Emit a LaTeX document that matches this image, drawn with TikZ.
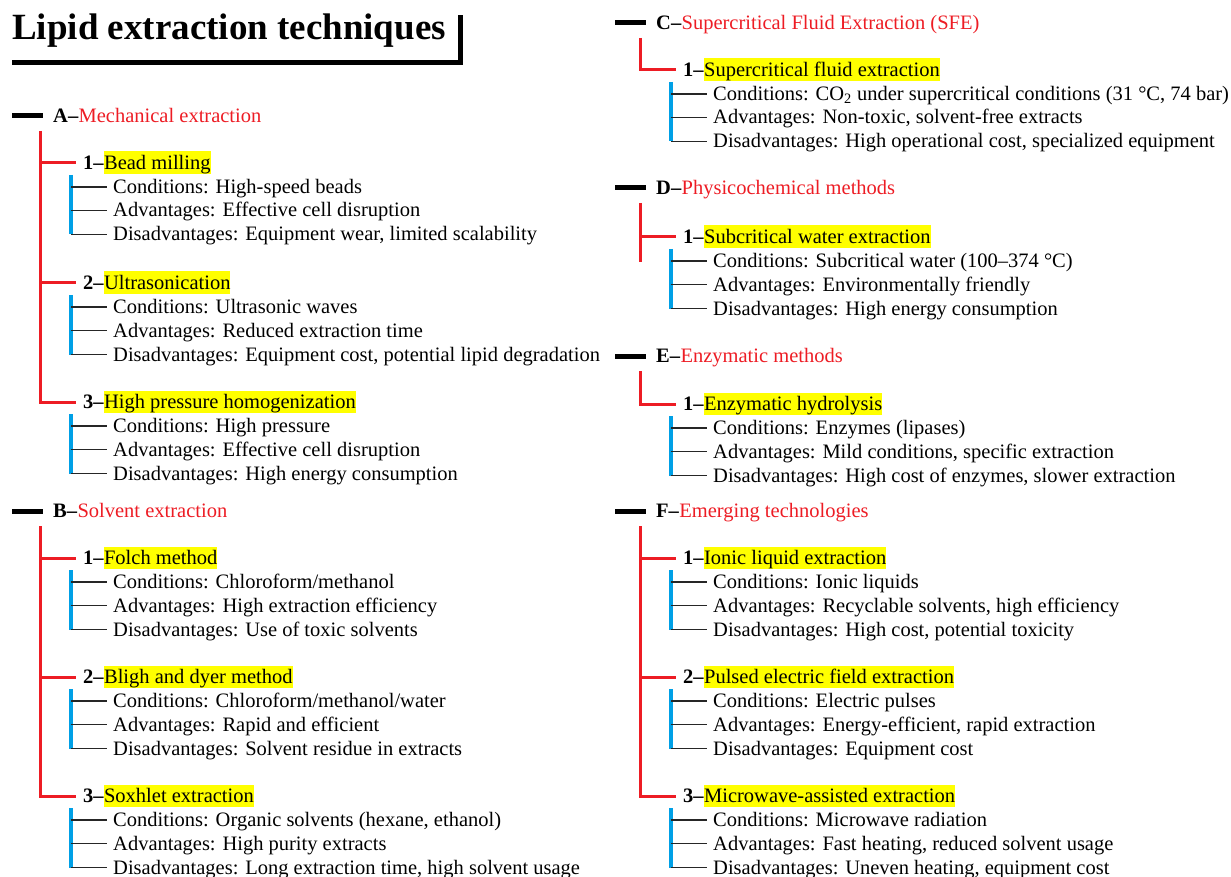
\documentclass[tikz,border=0pt]{standalone}
\usepackage{fontspec}
\setmainfont{Liberation Serif}
\usetikzlibrary{positioning}

\definecolor{hdred}{RGB}{237,28,36}
\definecolor{barblue}{RGB}{0,160,230}
\definecolor{hiyellow}{RGB}{255,255,0}

\newcommand{\bodysize}{\fontsize{20.5pt}{24pt}\selectfont}

\tikzset{
  txt/.style={anchor=west,inner sep=0pt,text height=13pt,text depth=0pt,font=\bodysize},
  headtxt/.style={txt,font=\bodysize\bfseries},
  numtxt/.style={txt,font=\bodysize\bfseries},
  hilite/.style={inner sep=0pt,fill=hiyellow,text height=18pt,text depth=4.5pt,font=\bodysize},
  headline/.style={line width=5pt,black},
  branchline/.style={line width=3pt,hdred},
  barline/.style={line width=3.5pt,barblue},
  rowline/.style={line width=1.8pt,black!85}
}

% #1 prefix, #2 column x, #3 y, #4 letter, #5 group name
\newcommand{\grouphead}[5]{%
  \coordinate (#1dash) at (#2+12,#3);
  \node[headtxt] (#1let) at (#2+53,#3) {#4--};
  \node[txt,text=hdred,right=0pt of #1let] (#1name) {#5};
  \draw[headline,shorten >=10pt] (#1dash) -- (#1let.west);
}

% #1 prefix, #2 column x, #3 y, #4 number, #5 method, #6-#8 rows
\newcommand{\methoditem}[8]{%
  \node[numtxt] (#1num) at (#2+83,#3) {#4--};
  \node[hilite,anchor=base west] (#1name) at (#1num.base east) {#5};
  \node[txt] (#1c) at (#2+113,#3+24) {Conditions: #6};
  \node[txt] (#1a) at (#2+113,#3+47.5) {Advantages: #7};
  \node[txt] (#1d) at (#2+113,#3+71.5) {Disadvantages: #8};
  \coordinate (#1bar) at (#2+71,#3+12);
  \draw[barline] (#1bar) -- (#1bar |- #1d.west);
  \foreach \r in {c,a,d}
    \draw[rowline,shorten >=6pt] (#1bar |- #1\r.west) -- (#1\r.west);
}

\begin{document}
\begin{tikzpicture}[x=1pt,y=-1pt]
\useasboundingbox (0,0) rectangle (1231,877);

% title
\node[inner sep=0pt,anchor=base west,font=\fontsize{37pt}{40pt}\selectfont\bfseries] (title) at (12,40) {Lipid extraction techniques};
\coordinate (tbl) at (12,63);
\coordinate (tbr) at (460,15);
\draw[line width=5pt] (tbl) -| (tbr);

% left column
\grouphead{A}{0}{116}{A}{Mechanical extraction}
\methoditem{A1}{0}{163}{1}{Bead milling}{High-speed beads}{Effective cell disruption}{Equipment wear, limited scalability}
\methoditem{A2}{0}{283}{2}{Ultrasonication}{Ultrasonic waves}{Reduced extraction time}{Equipment cost, potential lipid degradation}
\methoditem{A3}{0}{402}{3}{High pressure homogenization}{High pressure}{Effective cell disruption}{High energy consumption}
\coordinate (Atrunk) at (40,131);
\draw[branchline,shorten >=7pt] (Atrunk) |- (A3num.west);
\draw[branchline,shorten >=7pt] (Atrunk |- A1num.west) -- (A1num.west);
\draw[branchline,shorten >=7pt] (Atrunk |- A2num.west) -- (A2num.west);

\grouphead{B}{0}{511}{B}{Solvent extraction}
\methoditem{B1}{0}{558}{1}{Folch method}{Chloroform/methanol}{High extraction efficiency}{Use of toxic solvents}
\methoditem{B2}{0}{677}{2}{Bligh and dyer method}{Chloroform/methanol/water}{Rapid and efficient}{Solvent residue in extracts}
\methoditem{B3}{0}{796}{3}{Soxhlet extraction}{Organic solvents (hexane, ethanol)}{High purity extracts}{Long extraction time, high solvent usage}
\coordinate (Btrunk) at (40,526);
\draw[branchline,shorten >=7pt] (Btrunk) |- (B3num.west);
\draw[branchline,shorten >=7pt] (Btrunk |- B1num.west) -- (B1num.west);
\draw[branchline,shorten >=7pt] (Btrunk |- B2num.west) -- (B2num.west);

% right column
\grouphead{C}{603}{23}{C}{Supercritical Fluid Extraction (SFE)}
\methoditem{C1}{600}{70}{1}{Supercritical fluid extraction}{CO\textsubscript{2} under supercritical conditions (31 °C, 74 bar)}{Non-toxic, solvent-free extracts}{High operational cost, specialized equipment}
\coordinate (Ctrunk) at (640,38);
\draw[branchline,shorten >=7pt] (Ctrunk) |- (C1num.west);

\grouphead{D}{603}{188}{D}{Physicochemical methods}
\methoditem{D1}{600}{237}{1}{Subcritical water extraction}{Subcritical water (100--374 °C)}{Environmentally friendly}{High energy consumption}
\coordinate (Dtrunk) at (640,203);
\coordinate (Dend) at (640,262);
\draw[branchline] (Dtrunk) -- (Dend);
\draw[branchline,shorten >=7pt] (Dtrunk |- D1num.west) -- (D1num.west);

\grouphead{E}{603}{356}{E}{Enzymatic methods}
\methoditem{E1}{600}{404}{1}{Enzymatic hydrolysis}{Enzymes (lipases)}{Mild conditions, specific extraction}{High cost of enzymes, slower extraction}
\coordinate (Etrunk) at (640,371);
\draw[branchline,shorten >=7pt] (Etrunk) |- (E1num.west);

\grouphead{F}{603}{511}{F}{Emerging technologies}
\methoditem{F1}{600}{558}{1}{Ionic liquid extraction}{Ionic liquids}{Recyclable solvents, high efficiency}{High cost, potential toxicity}
\methoditem{F2}{600}{677}{2}{Pulsed electric field extraction}{Electric pulses}{Energy-efficient, rapid extraction}{Equipment cost}
\methoditem{F3}{600}{796}{3}{Microwave-assisted extraction}{Microwave radiation}{Fast heating, reduced solvent usage}{Uneven heating, equipment cost}
\coordinate (Ftrunk) at (640,526);
\draw[branchline,shorten >=7pt] (Ftrunk) |- (F3num.west);
\draw[branchline,shorten >=7pt] (Ftrunk |- F1num.west) -- (F1num.west);
\draw[branchline,shorten >=7pt] (Ftrunk |- F2num.west) -- (F2num.west);
\end{tikzpicture}
\end{document}
